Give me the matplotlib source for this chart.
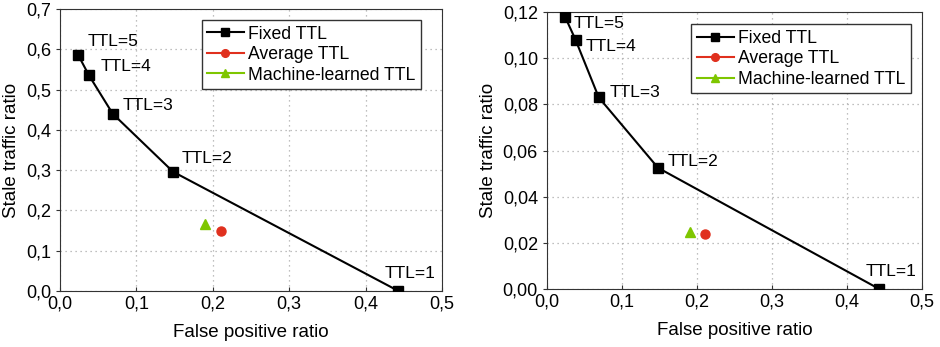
import matplotlib.pyplot as plt
from matplotlib.ticker import FuncFormatter

plt.rcParams['font.family'] = ['Liberation Sans', 'DejaVu Sans']

# Fixed TTL points (TTL=1..5), same x for both panels
ttl_labels = ["TTL=1", "TTL=2", "TTL=3", "TTL=4", "TTL=5"]
fixed_fp = [0.443, 0.148, 0.069, 0.038, 0.024]
fixed_stale_left = [0.0, 0.296, 0.440, 0.535, 0.585]
fixed_stale_right = [0.0, 0.0525, 0.083, 0.108, 0.118]

avg_fp = 0.211
avg_stale_left = 0.149
avg_stale_right = 0.024

ml_fp = 0.190
ml_stale_left = 0.166
ml_stale_right = 0.0245

RED = "#e0301e"
GREEN = "#7ec600"


def comma_fmt(decimals):
    return FuncFormatter(lambda v, p: f"{v:.{decimals}f}".replace(".", ","))


def draw(ax, stale, avg_y, ml_y, ymax, ystep, ydec, offsets, leg_anchor):
    ax.plot(fixed_fp, stale, color="black", lw=1.5, marker="s", ms=6.5,
            label="Fixed TTL", zorder=3)
    ax.plot([avg_fp], [avg_y], color=RED, lw=1.5, marker="o", ms=6.5,
            label="Average TTL", zorder=3)
    ax.plot([ml_fp], [ml_y], color=GREEN, lw=1.5, marker="^", ms=7,
            label="Machine-learned TTL", zorder=3)
    for lab, x, y, off in zip(ttl_labels, fixed_fp, stale, offsets):
        ax.annotate(lab, (x, y), xytext=off, textcoords="offset points",
                    fontsize=12.5)
    ax.set_xlim(0, 0.5)
    ax.set_ylim(0, ymax)
    ax.set_xticks([0, 0.1, 0.2, 0.3, 0.4, 0.5])
    ax.set_yticks([i * ystep for i in range(int(round(ymax / ystep)) + 1)])
    ax.xaxis.set_major_formatter(comma_fmt(1))
    ax.yaxis.set_major_formatter(comma_fmt(ydec))
    ax.tick_params(labelsize=13, length=3, color="#333333")
    ax.tick_params(axis="x", direction="in")
    ax.tick_params(axis="y", direction="out")
    ax.grid(True, ls=(0, (1, 3)), color="#aaaaaa", lw=0.9)
    ax.set_xlabel("False positive ratio", fontsize=13.5, labelpad=8)
    ax.set_ylabel("Stale traffic ratio", fontsize=13.5)
    for s in ax.spines.values():
        s.set_color("#333333")
    leg = ax.legend(loc="upper right", bbox_to_anchor=leg_anchor, fontsize=12.7,
                    fancybox=False, edgecolor="#333333", framealpha=1,
                    handlelength=2.1, borderpad=0.3, labelspacing=0.2,
                    handletextpad=0.25, borderaxespad=0, markerscale=0.85)
    leg.get_frame().set_linewidth(1.0)


fig = plt.figure(figsize=(9.4, 3.47), dpi=100)
ax1 = fig.add_axes([60 / 940, 1 - 291 / 347, 382 / 940, 282 / 347])
ax2 = fig.add_axes([547 / 940, 1 - 289 / 347, 375 / 940, 277 / 347])

draw(ax1, fixed_stale_left, avg_stale_left, ml_stale_left, 0.7, 0.1, 1,
     [(-10, 9), (6, 6), (7, 3), (8, 3), (7, 7)], (0.945, 0.96))
draw(ax2, fixed_stale_right, avg_stale_right, ml_stale_right, 0.12, 0.02, 2,
     [(-10, 9), (7, 1), (8, 0), (7, -8), (6, -8)], (0.97, 0.955))

fig.savefig("out.png", dpi=100)
